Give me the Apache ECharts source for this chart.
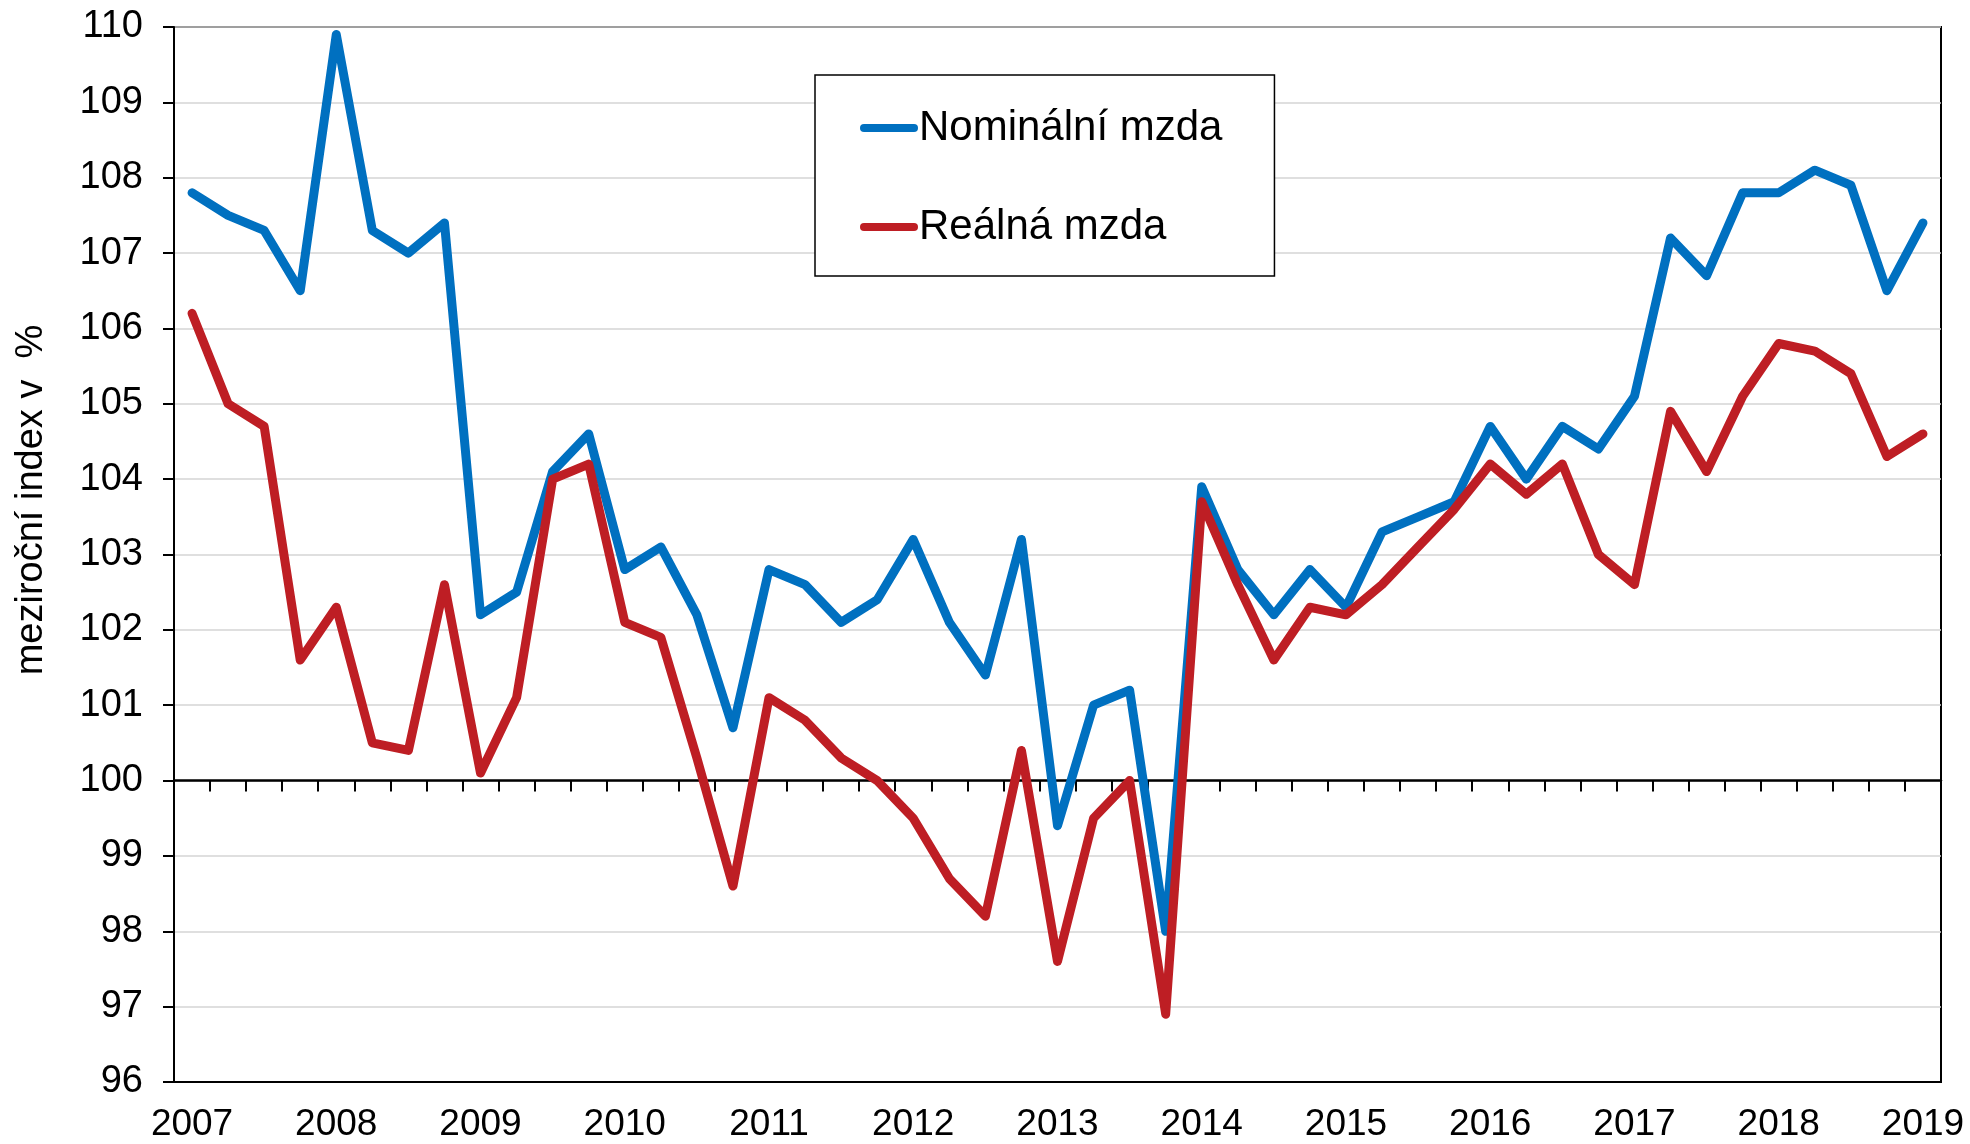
<!DOCTYPE html>
<html>
<head>
<meta charset="utf-8">
<script src="https://cdn.jsdelivr.net/npm/echarts@6/dist/echarts.min.js"></script>
<style>
  html, body { margin: 0; padding: 0; background: #fff; }
  #chart { width: 1970px; height: 1144px; }
</style>
</head>
<body>
<div id="chart"></div>
<script>
const categories = [
  '2007 Q1','2007 Q2','2007 Q3','2007 Q4',
  '2008 Q1','2008 Q2','2008 Q3','2008 Q4',
  '2009 Q1','2009 Q2','2009 Q3','2009 Q4',
  '2010 Q1','2010 Q2','2010 Q3','2010 Q4',
  '2011 Q1','2011 Q2','2011 Q3','2011 Q4',
  '2012 Q1','2012 Q2','2012 Q3','2012 Q4',
  '2013 Q1','2013 Q2','2013 Q3','2013 Q4',
  '2014 Q1','2014 Q2','2014 Q3','2014 Q4',
  '2015 Q1','2015 Q2','2015 Q3','2015 Q4',
  '2016 Q1','2016 Q2','2016 Q3','2016 Q4',
  '2017 Q1','2017 Q2','2017 Q3','2017 Q4',
  '2018 Q1','2018 Q2','2018 Q3','2018 Q4',
  '2019 Q1'
];

const nominalWage = [
  107.8, 107.5, 107.3, 106.5,
  109.9, 107.3, 107.0, 107.4,
  102.2, 102.5, 104.1, 104.6,
  102.8, 103.1, 102.2, 100.7,
  102.8, 102.6, 102.1, 102.4,
  103.2, 102.1, 101.4, 103.2,
  99.4, 101.0, 101.2, 98.0,
  103.9, 102.8, 102.2, 102.8,
  102.3, 103.3, 103.5, 103.7,
  104.7, 104.0, 104.7, 104.4,
  105.1, 107.2, 106.7, 107.8,
  107.8, 108.1, 107.9, 106.5,
  107.4
];

const realWage = [
  106.2, 105.0, 104.7, 101.6,
  102.3, 100.5, 100.4, 102.6,
  100.1, 101.1, 104.0, 104.2,
  102.1, 101.9, 100.3, 98.6,
  101.1, 100.8, 100.3, 100.0,
  99.5, 98.7, 98.2, 100.4,
  97.6, 99.5, 100.0, 96.9,
  103.7, 102.6, 101.6, 102.3,
  102.2, 102.6, 103.1, 103.6,
  104.2, 103.8, 104.2, 103.0,
  102.6, 104.9, 104.1, 105.1,
  105.8, 105.7, 105.4, 104.3,
  104.6
];

const seriesNames = ['Nominální mzda', 'Reálná mzda'];
const seriesColors = ['#0070C0', '#BE1E24'];
const yAxisTitle = 'meziroční index v  %';
const yMin = 96, yMax = 110, yStep = 1, baseLine = 100;

const FONT = '"Liberation Sans", Arial, sans-serif';
const LEGEND_ICON = 'path://M4,0 L54,0 A4,4 0 0 1 54,8 L4,8 A4,4 0 0 1 4,0 Z';

const chart = echarts.init(document.getElementById('chart'), null, { renderer: 'canvas' });

const option = {
  animation: false,
  backgroundColor: '#ffffff',
  textStyle: { fontFamily: FONT },
  grid: {
    left: 174, right: 29, top: 27, bottom: 62,
    show: true, borderColor: '#000', borderWidth: 2, backgroundColor: 'transparent'
  },
  legend: {
    orient: 'vertical',
    left: 815, top: 75,
    padding: [31, 52, 27, 45],
    borderColor: '#000', borderWidth: 1.5,
    backgroundColor: '#fff',
    itemWidth: 58, itemHeight: 8, itemGap: 55,
    icon: LEGEND_ICON,
    textStyle: { fontSize: 42, color: '#000', fontFamily: FONT, lineHeight: 44, padding: [0, 0, 0, -4] },
    data: seriesNames.map((n, i) => ({ name: n, icon: LEGEND_ICON, itemStyle: { color: seriesColors[i] } }))
  },
  xAxis: [
    {
      type: 'category',
      data: categories,
      boundaryGap: true,
      position: 'bottom',
      axisLine: { show: true, lineStyle: { color: '#000', width: 2 } },
      axisTick: { show: false },
      axisLabel: {
        interval: 3,
        margin: 24,
        fontSize: 37,
        color: '#000',
        fontFamily: FONT,
        formatter: v => v.split(' ')[0]
      },
      splitLine: { show: false }
    },
    {
      type: 'category',
      data: categories,
      boundaryGap: true,
      position: 'bottom',
      offset: -301,
      axisLine: { show: true, lineStyle: { color: '#000', width: 2.5 } },
      axisTick: { show: true, interval: 0, length: 11, lineStyle: { color: '#000', width: 2 } },
      axisLabel: { show: false },
      splitLine: { show: false }
    }
  ],
  yAxis: {
    type: 'value',
    min: yMin, max: yMax, interval: yStep,
    axisLine: { show: true, lineStyle: { color: '#000', width: 2 } },
    axisTick: { show: true, length: 11, lineStyle: { color: '#000', width: 2 } },
    axisLabel: { fontSize: 38, color: '#000', margin: 31, fontFamily: FONT },
    splitLine: { show: true, lineStyle: { color: '#D4D4D4', width: 1.5 } }
  },
  graphic: [
    {
      type: 'text',
      x: 32, y: 500,
      rotation: Math.PI / 2,
      style: {
        text: yAxisTitle,
        fontSize: 38,
        fontFamily: FONT,
        fill: '#000',
        align: 'center',
        verticalAlign: 'middle'
      }
    }
  ],
  series: [
    {
      name: seriesNames[0],
      type: 'line',
      xAxisIndex: 0,
      data: nominalWage,
      showSymbol: false,
      symbol: 'none',
      color: seriesColors[0],
      lineStyle: { color: seriesColors[0], width: 9, cap: 'round', join: 'round' },
      z: 3
    },
    {
      name: seriesNames[1],
      type: 'line',
      xAxisIndex: 0,
      data: realWage,
      showSymbol: false,
      symbol: 'none',
      color: seriesColors[1],
      lineStyle: { color: seriesColors[1], width: 9, cap: 'round', join: 'round' },
      z: 4
    }
  ]
};

chart.setOption(option);

// place the tick-bearing axis exactly on the 100 line
const yBase = chart.convertToPixel({ yAxisIndex: 0 }, baseLine);
const yBottom = chart.convertToPixel({ yAxisIndex: 0 }, yMin);
chart.setOption({ xAxis: [{}, { offset: -(yBottom - yBase) }] });
</script>
</body>
</html>
